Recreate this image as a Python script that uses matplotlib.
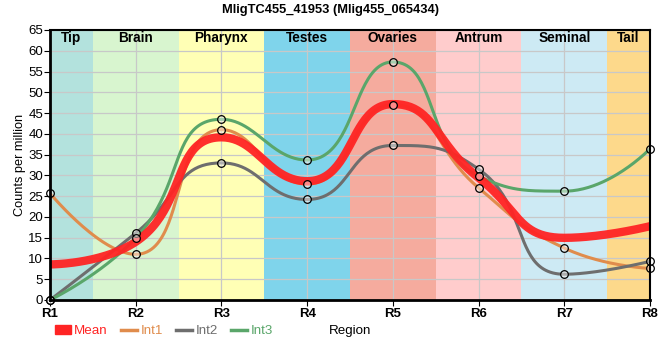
import numpy as np
import matplotlib.pyplot as plt
from matplotlib.lines import Line2D
from matplotlib.patches import Patch

plt.rcParams['font.family'] = ['Liberation Sans', 'DejaVu Sans']

title = "MligTC455_41953 (Mlig455_065434)"
regions = ["R1", "R2", "R3", "R4", "R5", "R6", "R7", "R8"]
tissues = ["Tip", "Brain", "Pharynx", "Testes", "Ovaries", "Antrum", "Seminal", "Tail"]
tissue_colors = ["#b3e2dd", "#d8f5cf", "#ffffb5", "#7fd4eb", "#f5ab9e",
                 "#ffcccc", "#cdeaf4", "#fdd98b"]

int1 = [25.7, 11.0, 41.0, 27.9, 47.0, 27.0, 12.5, 7.6]
int2 = [0.0, 16.1, 33.0, 24.2, 37.2, 31.5, 6.2, 9.3]
int3 = [0.0, 14.9, 43.5, 33.7, 57.3, 29.8, 26.2, 36.4]
mean = list(np.mean([int1, int2, int3], axis=0))


def smooth_line(ax, xs, ys, smooth=0.5, n=50):
    # bezier smoothing done in screen space, with clamped control points
    pts = ax.transData.transform(np.column_stack([xs, ys]))
    N = len(pts)
    cp0 = pts[0]
    segs = []
    for i in range(1, N):
        x, y = pts[i]
        px, py = pts[i - 1]
        if i == N - 1:
            cp1 = pts[i]
            nxt = None
        else:
            nx, ny = pts[i + 1]
            vx, vy = nx - px, ny - py
            lp = np.hypot(x - px, y - py)
            ln = np.hypot(nx - x, ny - y)
            r = ln / (ln + lp)
            ncx = x + vx * smooth * r
            ncy = y + vy * smooth * r
            ncx = max(min(ncx, max(nx, x)), min(nx, x))
            ncy = max(min(ncy, max(ny, y)), min(ny, y))
            vx, vy = ncx - x, ncy - y
            c1x = x - vx * lp / ln
            c1y = y - vy * lp / ln
            c1x = max(min(c1x, max(px, x)), min(px, x))
            c1y = max(min(c1y, max(py, y)), min(py, y))
            vx, vy = x - c1x, y - c1y
            nxt = np.array([x + vx * ln / lp, y + vy * ln / lp])
            cp1 = np.array([c1x, c1y])
        segs.append((pts[i - 1], cp0, cp1, pts[i]))
        cp0 = nxt
    t = np.linspace(0, 1, n)[:, None]
    out = []
    for p0, c0, c1, p1 in segs:
        out.append((1 - t)**3 * p0 + 3 * t * (1 - t)**2 * c0 + 3 * t**2 * (1 - t) * c1 + t**3 * p1)
    out = ax.transData.inverted().transform(np.vstack(out))
    return out[:, 0], out[:, 1]


x = np.arange(1, len(regions) + 1)

fig = plt.figure(figsize=(6.6, 3.6), dpi=100)
ax = fig.add_axes([50 / 660, 60 / 360, 600 / 660, 270 / 360])
ax.set_xlim(1, 8)
ax.set_ylim(0, 65)

for i, (name, col) in enumerate(zip(tissues, tissue_colors)):
    ax.axvspan(x[i] - 0.5, x[i] + 0.5, color=col, lw=0, zorder=0)
    xc = x[i]
    if i == 0:
        xc = x[i] + 0.25
    elif i == len(x) - 1:
        xc = x[i] - 0.25
    ax.text(xc, 63.0, name, ha='center', va='center', fontsize=9.8, fontweight='bold', zorder=5)

ax.set_yticks(np.arange(0, 66, 5))
ax.set_xticks(x)
ax.set_xticklabels(regions, fontsize=9.5, fontweight='bold')
ax.tick_params(axis='y', labelsize=9.5, length=4, pad=1)
ax.tick_params(axis='x', length=4, pad=2)
ax.grid(True, color='#c8c8c8', lw=0.9, zorder=1)
ax.set_axisbelow(False)
for sp in ax.spines.values():
    sp.set_linewidth(1.5)
    sp.set_zorder(6)
ax.spines['left'].set_linewidth(2)
ax.spines['bottom'].set_linewidth(2)

c_mean, c1, c2, c3 = "#ff2424", "#e08c4c", "#6e6e6e", "#5aa66a"

for ys, c in [(int1, c1), (int2, c2), (int3, c3)]:
    sx, sy = smooth_line(ax, x, ys)
    ax.plot(sx, sy, color=c, lw=2.2, zorder=3)
sx, sy = smooth_line(ax, x, mean)
ax.plot(sx, sy, color=c_mean, lw=6, alpha=0.95, zorder=3, solid_capstyle='butt')

for ys in (int1, int2, int3):
    ax.plot(x, ys, 'o', ms=5.5, mfc=(1, 1, 1, 0.45), mec='black', mew=0.9,
            zorder=4, clip_on=False)

ax.set_ylabel("Counts per million", fontsize=9.2)
ax.yaxis.set_label_coords(-0.04, 0.5)
fig.text(350 / 660, 1 - 331 / 360, "Region", fontsize=9.6, ha='center', va='center')
fig.text(330 / 660, 1 - 10 / 360, title, fontsize=9.3, fontweight='bold', ha='center', va='center')

handles = [Patch(color=c_mean, label='Mean'),
           Line2D([], [], color=c1, lw=2.5, label='Int1'),
           Line2D([], [], color=c2, lw=2.5, label='Int2'),
           Line2D([], [], color=c3, lw=2.5, label='Int3')]
leg = fig.legend(handles=handles, loc='center left', bbox_to_anchor=(55 / 660, 1 - 331 / 360),
                 ncol=4, frameon=False, fontsize=9.6,
                 handlelength=1.2, handleheight=0.6,
                 handletextpad=0.25, columnspacing=1.0, borderaxespad=0, borderpad=0)
for t, c in zip(leg.get_texts(), [c_mean, c1, c2, c3]):
    t.set_color(c)

fig.savefig("out.png", dpi=100)
